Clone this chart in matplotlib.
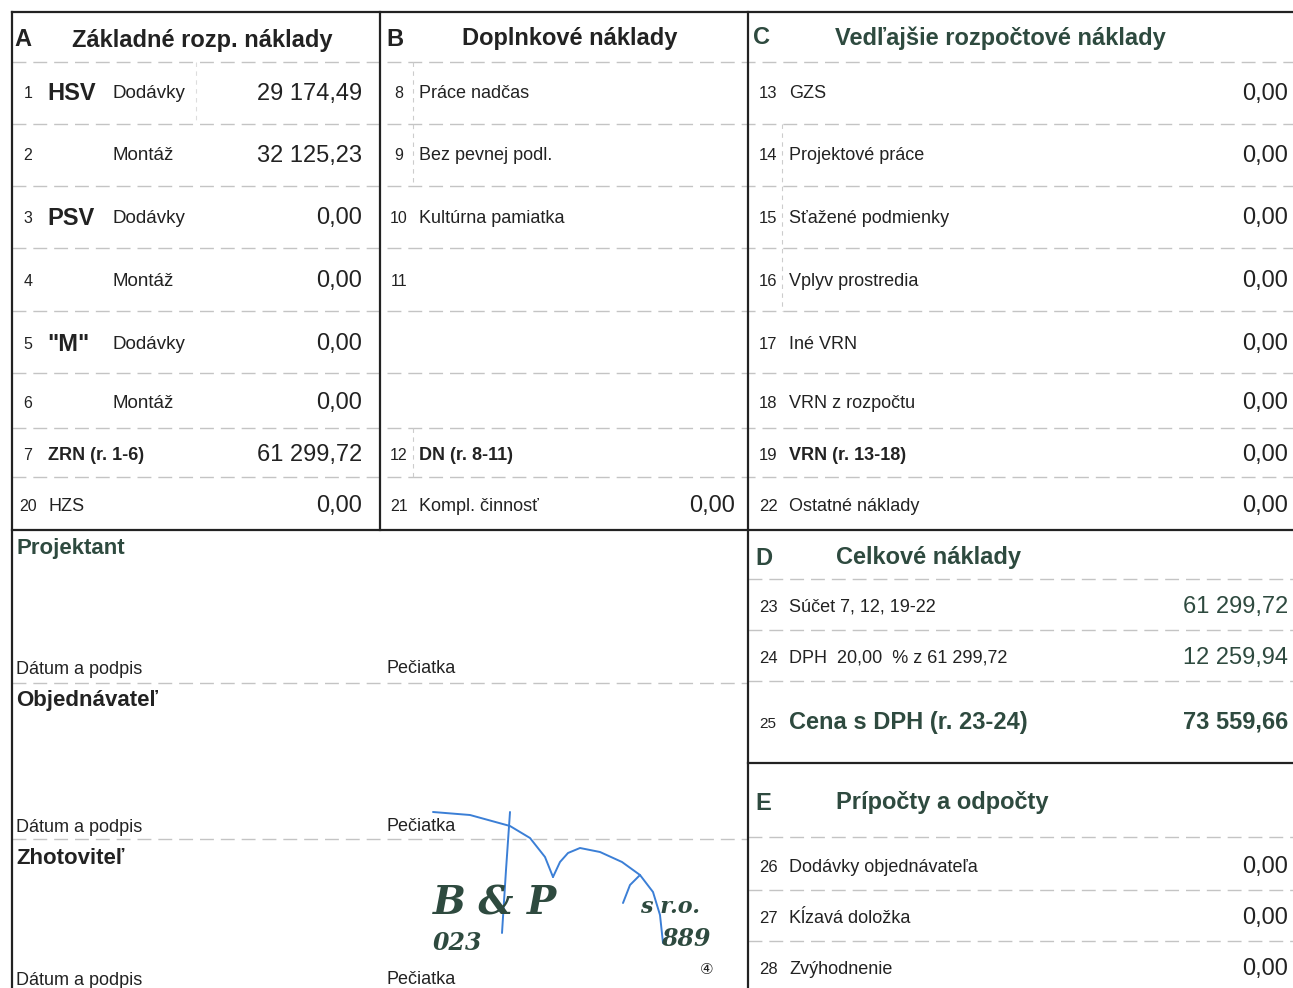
import matplotlib
matplotlib.use("Agg")
import matplotlib.pyplot as plt

plt.rcParams['font.family'] = ['Liberation Sans', 'DejaVu Sans']

DARK = '#222222'
GREEN = '#2e4a3f'
GRID = '#c4c4c4'
INK = '#3b7fd6'

# Section A - Zakladne rozpoctove naklady
a_nums = ['1', '2', '3', '4', '5', '6', '7', '20']
a_groups = ['HSV', '', 'PSV', '', '"M"', '', '', '']
a_labels = ['Dodávky', 'Montáž', 'Dodávky', 'Montáž', 'Dodávky', 'Montáž', 'ZRN (r. 1-6)', 'HZS']
a_values = ['29 174,49', '32 125,23', '0,00', '0,00', '0,00', '0,00', '61 299,72', '0,00']

# Section B - Doplnkove naklady
b_nums = ['8', '9', '10', '11', '', '', '12', '21']
b_labels = ['Práce nadčas', 'Bez pevnej podl.', 'Kultúrna pamiatka', '', '', '', 'DN (r. 8-11)', 'Kompl. činnosť']
b_values = ['', '', '', '', '', '', '', '0,00']

# Section C - Vedlajsie rozpoctove naklady
c_nums = ['13', '14', '15', '16', '17', '18', '19', '22']
c_labels = ['GZS', 'Projektové práce', 'Sťažené podmienky', 'Vplyv prostredia', 'Iné VRN',
            'VRN z rozpočtu', 'VRN (r. 13-18)', 'Ostatné náklady']
c_values = ['0,00'] * 8

# Section D - Celkove naklady
d_nums = ['23', '24', '25']
d_labels = ['Súčet 7, 12, 19-22', 'DPH  20,00  % z 61 299,72', 'Cena s DPH (r. 23-24)']
d_values = ['61 299,72', '12 259,94', '73 559,66']

# Section E - Pripocty a odpocty
e_nums = ['26', '27', '28']
e_labels = ['Dodávky objednávateľa', 'Kĺzavá doložka', 'Zvýhodnenie']
e_values = ['0,00', '0,00', '0,00']

# signature blocks
sign_titles = ['Projektant', 'Objednávateľ', 'Zhotoviteľ']
sign_left = 'Dátum a podpis'
sign_right = 'Pečiatka'

# layout (pixels)
ROW_Y = [94, 156, 218, 281, 344, 403, 455, 506]
SEP_Y = [62, 124, 186, 248, 311, 373, 428, 477]
D_ROW_Y = [607, 658, 722]
D_SEP_Y = [579, 630, 681]
E_ROW_Y = [867, 918, 969]
E_SEP_Y = [837, 890, 941]
SIGN_TITLE_Y = [548, 700, 858]
SIGN_FOOT_Y = [669, 827, 980]
SIGN_SEP_Y = [683, 839]

fig = plt.figure(figsize=(12.93, 9.88), dpi=100)
ax = fig.add_axes([0, 0, 1, 1])
ax.set_xlim(0, 1293)
ax.set_ylim(988, 0)
ax.axis('off')

dash = (0, (10, 5))

# row separators
for y in SEP_Y:
    ax.plot([12, 1293], [y, y], color=GRID, lw=1, ls=dash)
for y in D_SEP_Y:
    ax.plot([748, 1293], [y, y], color=GRID, lw=1, ls=dash)
for y in E_SEP_Y:
    ax.plot([748, 1293], [y, y], color=GRID, lw=1, ls=dash)
for y in SIGN_SEP_Y:
    ax.plot([12, 748], [y, y], color=GRID, lw=1, ls=dash)

# faint inner verticals
ax.plot([413, 413], [62, 186], color='#cccccc', lw=0.8, ls=(0, (4, 4)))
ax.plot([413, 413], [428, 477], color='#cccccc', lw=0.8, ls=(0, (4, 4)))
ax.plot([782, 782], [124, 311], color='#cccccc', lw=0.8, ls=(0, (4, 4)))
ax.plot([196, 196], [62, 124], color='#dddddd', lw=0.8, ls=(0, (4, 4)))

# main frame
ax.plot([12, 1293], [12, 12], color=DARK, lw=1.6)
ax.plot([12, 1293], [530, 530], color=DARK, lw=1.6)
ax.plot([748, 1293], [763, 763], color=DARK, lw=1.6)
ax.plot([12, 12], [12, 988], color=DARK, lw=1.6)
ax.plot([380, 380], [12, 530], color=DARK, lw=1.6)
ax.plot([748, 748], [12, 988], color=DARK, lw=1.6)

# headers
hdr = dict(fontsize=17, fontweight='bold', va='center')
ax.text(14, 40, 'A', color=DARK, **hdr)
ax.text(72, 40, 'Základné rozp. náklady', color=DARK, **hdr)
ax.text(386, 39, 'B', color=DARK, **hdr)
ax.text(462, 39, 'Doplnkové náklady', color=DARK, **hdr)
ax.text(753, 38, 'C', color=GREEN, **hdr)
ax.text(835, 38, 'Vedľajšie rozpočtové náklady', color=GREEN, **hdr)
ax.text(755, 558, 'D', color=GREEN, **hdr)
ax.text(836, 557, 'Celkové náklady', color=GREEN, **hdr)
ax.text(755, 803, 'E', color=GREEN, **hdr)
ax.text(836, 802, 'Prípočty a odpočty', color=GREEN, **hdr)

# section A
for i, y in enumerate(ROW_Y):
    ax.text(28, y, a_nums[i], fontsize=11.5, ha='center', va='center', color=DARK)
    if a_groups[i]:
        ax.text(47, y, a_groups[i], fontsize=17, fontweight='bold', va='center', color=DARK)
    if i == 6:
        ax.text(48, y, a_labels[i], fontsize=13, fontweight='bold', va='center', color=DARK)
    elif i == 7:
        ax.text(48, y, a_labels[i], fontsize=13, va='center', color=DARK)
    else:
        ax.text(113, y, a_labels[i], fontsize=13.5, va='center', color=DARK)
    ax.text(362, y, a_values[i], fontsize=17, ha='right', va='center', color=DARK)

# section B
for i, y in enumerate(ROW_Y):
    ax.text(399, y, b_nums[i], fontsize=11.5, ha='center', va='center', color=DARK)
    weight = 'bold' if i == 6 else 'normal'
    ax.text(419, y, b_labels[i], fontsize=13, fontweight=weight, va='center', color=DARK)
    if b_values[i]:
        ax.text(735, y, b_values[i], fontsize=17, ha='right', va='center', color=DARK)

# section C
for i, y in enumerate(ROW_Y):
    ax.text(768, y, c_nums[i], fontsize=12, ha='center', va='center', color=DARK)
    weight = 'bold' if i == 6 else 'normal'
    ax.text(789, y, c_labels[i], fontsize=13, fontweight=weight, va='center', color=DARK)
    ax.text(1288, y, c_values[i], fontsize=17, ha='right', va='center', color=DARK)

# section D
for i, y in enumerate(D_ROW_Y):
    last = i == 2
    ax.text(768, y + (2 if last else 0), d_nums[i], fontsize=11 if last else 12,
            ha='center', va='center', color=DARK)
    ax.text(789, y, d_labels[i], fontsize=17 if last else 13, fontweight='bold' if last else 'normal',
            va='center', color=GREEN if last else DARK)
    ax.text(1288, y, d_values[i], fontsize=17, fontweight='bold' if last else 'normal',
            ha='right', va='center', color=GREEN)

# section E
for i, y in enumerate(E_ROW_Y):
    ax.text(768, y, e_nums[i], fontsize=12, ha='center', va='center', color=DARK)
    ax.text(789, y, e_labels[i], fontsize=13, va='center', color=DARK)
    ax.text(1288, y, e_values[i], fontsize=17, ha='right', va='center', color=DARK)

# signature blocks
for i, title in enumerate(sign_titles):
    ax.text(16, SIGN_TITLE_Y[i], title, fontsize=16, fontweight='bold', va='center',
            color=GREEN if i == 0 else DARK)
    ax.text(16, SIGN_FOOT_Y[i], sign_left, fontsize=13, va='center', color=DARK)
    ax.text(386, SIGN_FOOT_Y[i] - 1, sign_right, fontsize=13, va='center', color=DARK)

# company stamp
stamp = dict(family='DejaVu Serif', fontweight='bold', fontstyle='italic', color=GREEN, va='center')
ax.text(433, 903, 'B & P', fontsize=28, **stamp)
ax.text(640, 907, 's r.o.', fontsize=16, **stamp)
ax.text(433, 943, '023', fontsize=17, **stamp)
ax.text(661, 939, '889', fontsize=17, **stamp)
ax.text(700, 969, '④', fontsize=11, family='DejaVu Sans', color=DARK, va='center')

# handwritten signature
sig_arc_x = [433, 470, 510, 530, 545, 553]
sig_arc_y = [812, 815, 826, 838, 857, 877]
sig_hump_x = [553, 560, 568, 580, 600, 622, 640, 653, 660, 663]
sig_hump_y = [877, 862, 853, 848, 852, 862, 875, 892, 915, 943]
sig_stem_x = [510, 506, 502]
sig_stem_y = [812, 870, 933]
sig_hook_x = [640, 630, 623]
sig_hook_y = [875, 885, 903]
for xs, ys in [(sig_arc_x, sig_arc_y), (sig_hump_x, sig_hump_y),
               (sig_stem_x, sig_stem_y), (sig_hook_x, sig_hook_y)]:
    ax.plot(xs, ys, color=INK, lw=1.4, solid_capstyle='round')

fig.savefig('out.png', dpi=100, facecolor='white')
